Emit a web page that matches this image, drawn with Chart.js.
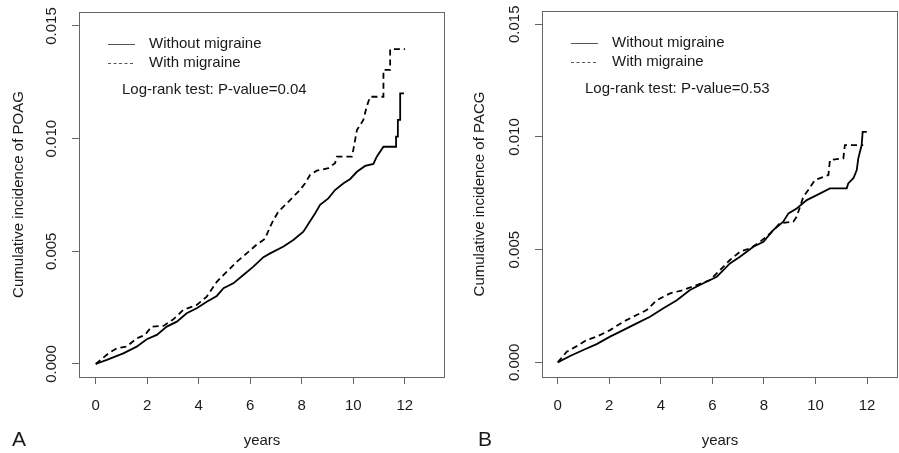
<!DOCTYPE html>
<html>
<head>
<meta charset="utf-8">
<script src="https://cdn.jsdelivr.net/npm/chart.js@4/dist/chart.umd.min.js"></script>
<style>
  body { margin: 0; background: #fff; overflow: hidden; }
  canvas { position: absolute; top: 0; }
</style>
</head>
<body>
<canvas id="chartA" width="450" height="453" style="left:0"></canvas>
<canvas id="chartB" width="449" height="453" style="left:450px"></canvas>
<script>
// ---- data ----
const xTicks = [0, 2, 4, 6, 8, 10, 12];
const yTicks = [0, 0.005, 0.010, 0.015];
const seriesNames = ['Without migraine', 'With migraine'];

// Panel A: POAG
const yearsA_without = [0, 0.43, 1.07, 1.59, 1.98, 2.37, 2.76, 3.15, 3.53, 3.92, 4.31, 4.7, 4.96, 5.34, 5.73, 6.12, 6.51, 6.77, 7.29, 7.67, 8.06, 8.52, 8.71, 9.03, 9.29, 9.62, 9.88, 10.14, 10.46, 10.78, 10.91, 11.17, 11.66, 11.66, 11.73, 11.73, 11.82, 11.82, 11.97];
const incA_without = [0, 0.00018, 0.00047, 0.00077, 0.0011, 0.00129, 0.00166, 0.00188, 0.00225, 0.00247, 0.00276, 0.00302, 0.00336, 0.00358, 0.00395, 0.00432, 0.00474, 0.00491, 0.00521, 0.0055, 0.00587, 0.00669, 0.00706, 0.00735, 0.00772, 0.00802, 0.00821, 0.00853, 0.00879, 0.00888, 0.0092, 0.00964, 0.00964, 0.01009, 0.01009, 0.01083, 0.01083, 0.01201, 0.01201];
const yearsA_with = [0, 0.49, 0.82, 1.2, 1.59, 1.91, 2.17, 2.63, 3.01, 3.4, 3.92, 4.31, 4.7, 5.09, 5.48, 5.86, 6.25, 6.57, 6.77, 6.9, 7.09, 7.42, 7.67, 7.93, 8.13, 8.32, 8.58, 9.03, 9.29, 9.36, 9.94, 10.0, 10.14, 10.39, 10.52, 10.65, 11.11, 11.17, 11.17, 11.43, 11.43, 12.01];
const incA_with = [0, 0.00047, 0.0007, 0.00077, 0.00114, 0.00129, 0.00166, 0.00169, 0.00198, 0.0024, 0.00262, 0.00299, 0.00365, 0.0041, 0.00454, 0.00491, 0.0053, 0.00555, 0.00609, 0.00639, 0.00676, 0.00713, 0.00742, 0.00772, 0.00802, 0.00839, 0.00858, 0.00869, 0.00891, 0.0092, 0.0092, 0.0095, 0.01038, 0.01083, 0.01142, 0.01186, 0.01186, 0.01186, 0.01305, 0.01305, 0.01397, 0.01397];

// Panel B: PACG
const yearsB_without = [0, 0.48, 0.99, 1.51, 2.03, 2.54, 3.06, 3.58, 4.1, 4.62, 5.13, 5.65, 6.17, 6.3, 6.68, 7.07, 7.59, 7.98, 8.36, 8.75, 8.95, 9.27, 9.66, 10.05, 10.56, 11.21, 11.27, 11.47, 11.6, 11.66, 11.79, 11.83, 11.99];
const incB_without = [0, 0.00028, 0.00055, 0.00081, 0.00114, 0.00143, 0.00173, 0.00202, 0.0024, 0.00276, 0.00321, 0.00351, 0.0038, 0.00395, 0.00439, 0.00469, 0.00513, 0.00535, 0.00587, 0.00624, 0.00661, 0.00683, 0.0072, 0.00742, 0.00772, 0.00772, 0.00794, 0.00817, 0.00853, 0.00905, 0.00964, 0.01023, 0.01023];
const yearsB_with = [0, 0.35, 0.74, 1.12, 1.51, 2.03, 2.54, 3.06, 3.45, 3.84, 4.36, 4.87, 5.39, 5.91, 6.42, 6.68, 7.07, 7.46, 7.85, 8.24, 8.62, 9.14, 9.27, 9.4, 9.53, 9.72, 9.98, 10.5, 10.56, 11.08, 11.14, 11.85];
const incB_with = [0, 0.00047, 0.00072, 0.00099, 0.00114, 0.00143, 0.0018, 0.0021, 0.00232, 0.00276, 0.00306, 0.00321, 0.00343, 0.00365, 0.00424, 0.00454, 0.00491, 0.00506, 0.00535, 0.00572, 0.00617, 0.00624, 0.00646, 0.00691, 0.00735, 0.00765, 0.00809, 0.00831, 0.00898, 0.00905, 0.00964, 0.00964];

const FONT = '"Liberation Sans", Arial, Helvetica, sans-serif';
const TXT = '#1a1a1a';
const AXC = '#666';
const FS = 15;

const toPts = (xs, ys) => xs.map((x, i) => ({ x: x, y: ys[i] }));

// box, rotated y labels, legend, panel letter
const panelDecor = {
  id: 'panelDecor',
  afterDraw(chart, args, o) {
    const { ctx, chartArea: a, scales } = chart;
    ctx.save();
    ctx.strokeStyle = AXC;
    ctx.lineWidth = 1;
    ctx.strokeRect(Math.round(a.left) + 0.5, Math.round(a.top) + 0.5,
      Math.round(a.right - a.left) - 1, Math.round(a.bottom - a.top));

    ctx.fillStyle = TXT;
    ctx.font = FS + 'px ' + FONT;
    ctx.textAlign = 'center';
    ctx.textBaseline = 'middle';
    scales.y.ticks.forEach(t => {
      const py = scales.y.getPixelForValue(t.value);
      ctx.save();
      ctx.translate(o.yLabelX, py);
      ctx.rotate(-Math.PI / 2);
      ctx.fillText(t.value.toFixed(3), 0, 0);
      ctx.restore();
    });

    // legend
    const lx = a.left + 29, ly = a.top + 32;
    ctx.lineWidth = 1;
    ctx.strokeStyle = '#555';
    ctx.beginPath(); ctx.moveTo(lx, ly + 0.5); ctx.lineTo(lx + 27, ly + 0.5); ctx.stroke();
    ctx.setLineDash([3, 2.5]);
    ctx.beginPath(); ctx.moveTo(lx, ly + 19.5); ctx.lineTo(lx + 27, ly + 19.5); ctx.stroke();
    ctx.setLineDash([]);
    ctx.textAlign = 'left';
    ctx.fillText(seriesNames[0], a.left + 70, ly);
    ctx.fillText(seriesNames[1], a.left + 70, ly + 19);
    ctx.fillText(o.test, a.left + 43, a.top + 78);

    ctx.font = '21px ' + FONT;
    ctx.textAlign = 'center';
    ctx.fillText(o.letter, o.letterX, 440);
    ctx.restore();
  }
};

function makePanel(id, cfg) {
  new Chart(document.getElementById(id), {
    type: 'line',
    data: {
      datasets: [
        { data: toPts(cfg.xs0, cfg.ys0), borderColor: '#000', borderWidth: 1.8 },
        { data: toPts(cfg.xs1, cfg.ys1), borderColor: '#000', borderWidth: 1.8, borderDash: [6, 4] }
      ]
    },
    options: {
      responsive: false,
      animation: false,
      elements: { point: { radius: 0 }, line: { tension: 0, fill: false } },
      layout: { padding: { top: cfg.top, right: cfg.right, left: 0, bottom: 0 } },
      plugins: {
        legend: { display: false },
        tooltip: { enabled: false },
        panelDecor: { yLabelX: cfg.yLabelX, test: cfg.test, letter: cfg.letter, letterX: cfg.letterX }
      },
      scales: {
        x: {
          type: 'linear',
          min: cfg.xmin, max: cfg.xmax,
          afterBuildTicks: s => { s.ticks = xTicks.map(v => ({ value: v })); },
          afterFit: s => { s.height = 453 - 377; },
          grid: { drawOnChartArea: false, tickLength: 7, color: AXC },
          border: { display: false },
          ticks: { color: TXT, font: { family: FONT, size: FS }, padding: 13, maxRotation: 0, autoSkip: false, callback: v => String(v) },
          title: { display: true, text: 'years', color: TXT, font: { family: FONT, size: FS }, padding: { top: 0, bottom: 3 } }
        },
        y: {
          min: cfg.ymin, max: cfg.ymax,
          afterBuildTicks: s => { s.ticks = yTicks.map(v => ({ value: v })); },
          afterFit: s => { s.width = cfg.yWidth; },
          grid: { drawOnChartArea: false, tickLength: 7, color: AXC },
          border: { display: false },
          ticks: { display: false },
          title: { display: true, text: cfg.yTitle, color: TXT, font: { family: FONT, size: FS }, padding: { top: cfg.yTitlePad, bottom: 0 } }
        }
      }
    },
    plugins: [panelDecor]
  });
}

makePanel('chartA', {
  xs0: yearsA_without, ys0: incA_without, xs1: yearsA_with, ys1: incA_with,
  xmin: -0.65, xmax: 13.56, ymin: -0.000577, ymax: 0.01562,
  top: 12, right: 5, yWidth: 79, yLabelX: 52, yTitlePad: 10,
  yTitle: 'Cumulative incidence of POAG', test: 'Log-rank test: P-value=0.04',
  letter: 'A', letterX: 19
});
makePanel('chartB', {
  xs0: yearsB_without, ys0: incB_without, xs1: yearsB_with, ys1: incB_with,
  xmin: -0.61, xmax: 13.2, ymin: -0.00065, ymax: 0.01559,
  top: 11, right: 1, yWidth: 92, yLabelX: 65, yTitlePad: 21,
  yTitle: 'Cumulative incidence of PACG', test: 'Log-rank test: P-value=0.53',
  letter: 'B', letterX: 35
});
</script>
</body>
</html>
